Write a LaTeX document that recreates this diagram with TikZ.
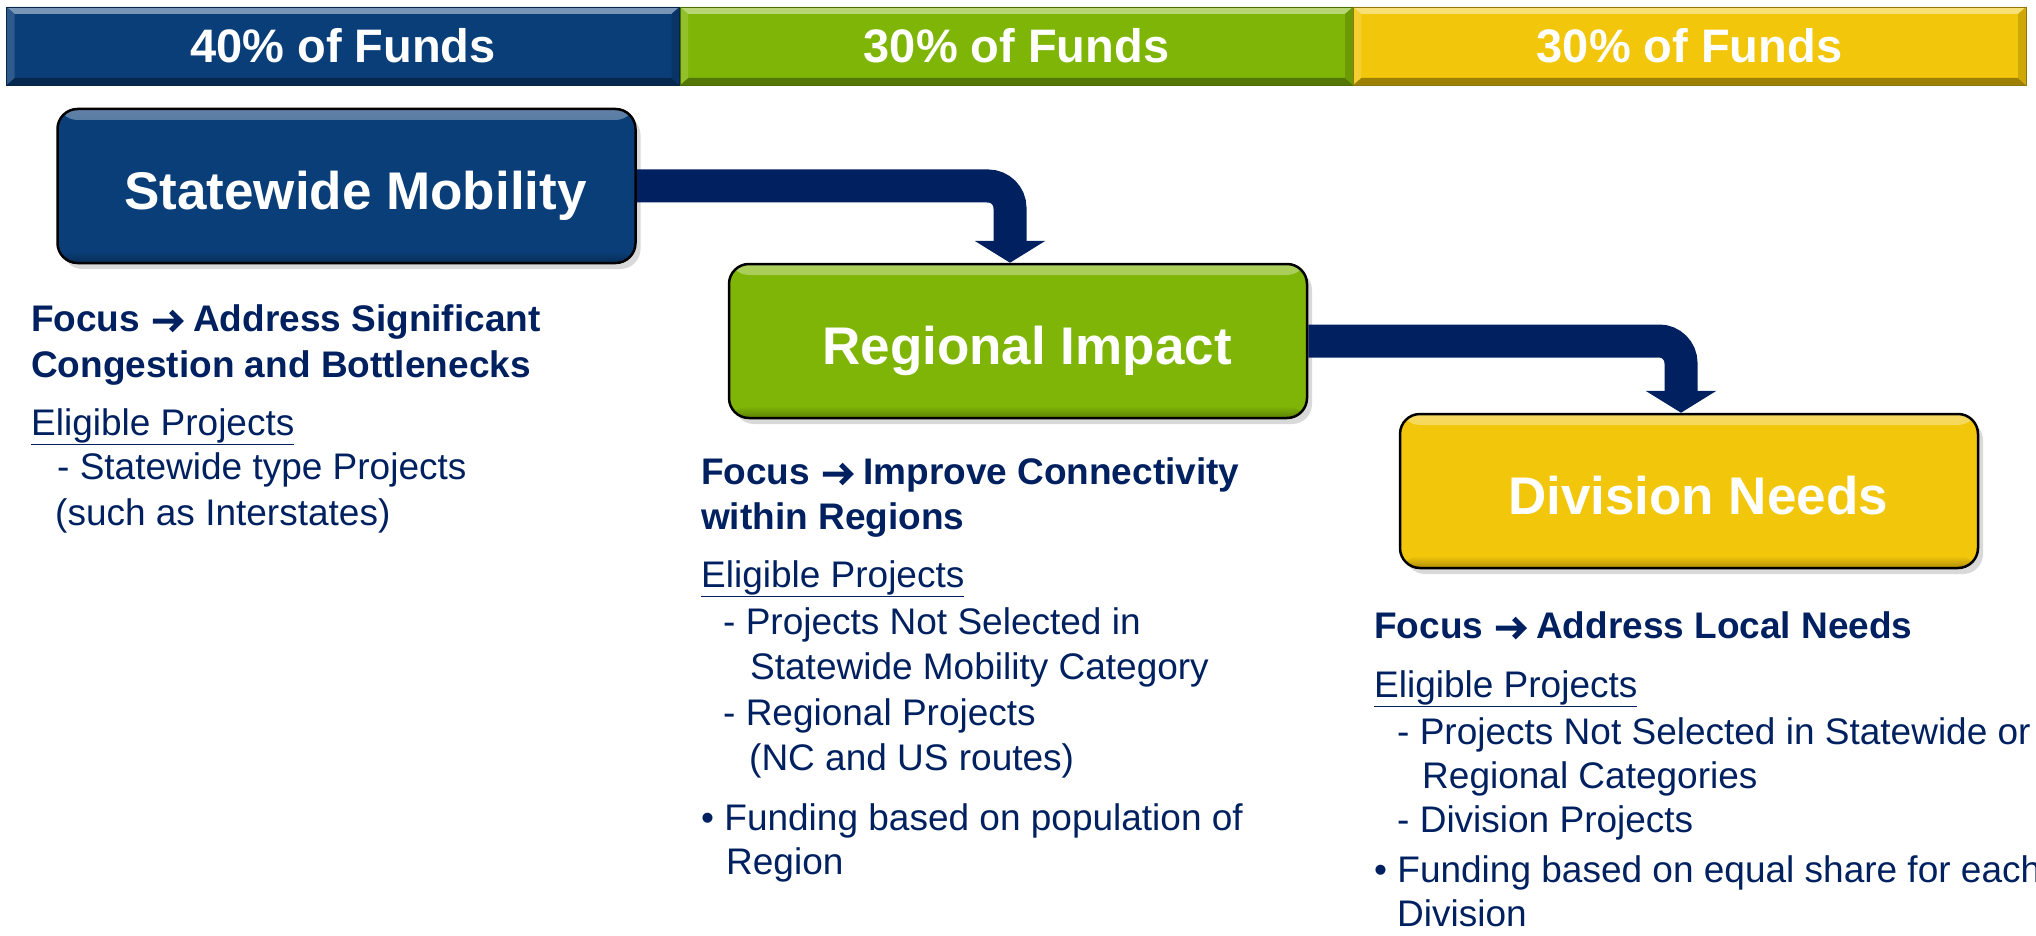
\documentclass[tikz,border=0pt]{standalone}
\usepackage{fontspec}
\setmainfont{Liberation Sans}
\usetikzlibrary{arrows.meta,shadows}
\definecolor{navy}{RGB}{0,32,96}
\definecolor{segblue}{RGB}{10,62,120}
\definecolor{seggreen}{RGB}{127,181,6}
\definecolor{segyellow}{RGB}{242,198,10}
\newcommand\focusarrow{\tikz[baseline=0pt,x=1pt,y=1pt]{\draw[navy, line width=5pt, line join=miter, line cap=butt] (0,10) -- (27,10) (18,0.5) -- (27.5,10) -- (18,19.5);}}
\begin{document}
\begin{tikzpicture}[x=1pt,y=-1pt,
  barseg/.style={minimum width=673pt, minimum height=78pt, inner sep=0pt,
    fill=#1, draw=#1!60!black, line width=0.8pt, text=white,
    font={\fontsize{47pt}{56pt}\selectfont\bfseries},
    path picture={
      \fill[#1!55!white] (path picture bounding box.north west) -- (path picture bounding box.north east)
        -- ([shift={(-8pt,-7pt)}]path picture bounding box.north east) -- ([shift={(8pt,-7pt)}]path picture bounding box.north west) -- cycle;
      \fill[#1!65!black] (path picture bounding box.south west) -- (path picture bounding box.south east)
        -- ([shift={(-8pt,7pt)}]path picture bounding box.south east) -- ([shift={(8pt,7pt)}]path picture bounding box.south west) -- cycle;
      \fill[#1!85!black] (path picture bounding box.north east) -- ([shift={(-8pt,-7pt)}]path picture bounding box.north east)
        -- ([shift={(-8pt,7pt)}]path picture bounding box.south east) -- (path picture bounding box.south east) -- cycle;
      \fill[#1!85!white] (path picture bounding box.north west) -- ([shift={(8pt,-7pt)}]path picture bounding box.north west)
        -- ([shift={(8pt,7pt)}]path picture bounding box.south west) -- (path picture bounding box.south west) -- cycle;
    }},
  catbox/.style={minimum width=578pt, minimum height=154pt, inner sep=0pt,
    rounded corners=20pt, fill=#1, draw=black, line width=2.5pt, text=white,
    font={\fontsize{53pt}{62pt}\selectfont\bfseries}, text height=46pt, text depth=0pt,
    drop shadow={shadow xshift=5pt, shadow yshift=-6pt, opacity=0.3},
    path picture={
      \shade[top color=#1!65!white, bottom color=#1] (path picture bounding box.north west)
        rectangle ([yshift=-11pt]path picture bounding box.north east);
      \shade[top color=#1, bottom color=#1!72!black] ([yshift=12pt]path picture bounding box.south west)
        rectangle (path picture bounding box.south east);
    }},
  flow/.style={draw=navy, line width=33pt, rounded corners=22pt,
    -{Triangle[width=70pt,length=22pt]}},
  body/.style={anchor=base west, inner sep=0pt, text=navy,
    font={\fontsize{37pt}{45pt}\selectfont}},
  bodyb/.style={body, font={\fontsize{37pt}{45pt}\selectfont\bfseries}}
]
\useasboundingbox (0,0) rectangle (2036,936);
\clip (0,0) rectangle (2036,936);

% funding bar
\node[barseg=segblue] (b1) at (343,46) {40\% of Funds};
\node[barseg=seggreen] (b2) at (1016.5,46) {30\% of Funds};
\node[barseg=segyellow] (b3) at (1689.5,46) {30\% of Funds};

% category boxes
\node[catbox=segblue] (sm) at (346.5,186) {\hspace{18pt}Statewide Mobility};
\node[catbox=seggreen] (ri) at (1018,341) {\hspace{18pt}Regional Impact};
\node[catbox=segyellow] (dn) at (1689,491) {\hspace{18pt}Division Needs};

% connectors
\draw[flow] (sm.east) -| ([xshift=-8pt]ri.north);
\draw[flow] (ri.east) -| ([xshift=-8pt]dn.north);

% left text block
\node[bodyb] (l1) at (31,331) {Focus \focusarrow{} Address Significant};
\node[bodyb] (l2) at (31,377) {Congestion and Bottlenecks};
\node[body] (l3) at (31,435) {\underline{Eligible Projects}};
\node[body] (l4) at (57,479) {- Statewide type Projects};
\node[body] (l5) at (55,525) {(such as Interstates)};

% middle text block
\node[bodyb] (m1) at (701,484) {Focus \focusarrow{} Improve Connectivity};
\node[bodyb] (m2) at (701,529) {within Regions};
\node[body] (m3) at (701,587) {\underline{Eligible Projects}};
\node[body] (m4) at (723,634) {- Projects Not Selected in};
\node[body] (m5) at (750,679) {Statewide Mobility Category};
\node[body] (m6) at (723,725) {- Regional Projects};
\node[body] (m7) at (749,770) {(NC and US routes)};
\node[body] (m8) at (701,830) {• Funding based on population of};
\node[body] (m9) at (726,874) {Region};

% right text block
\node[bodyb] (r1) at (1374,638) {Focus \focusarrow{} Address Local Needs};
\node[body] (r2) at (1374,697) {\underline{Eligible Projects}};
\node[body] (r3) at (1397,744) {- Projects Not Selected in Statewide or};
\node[body] (r4) at (1422,788) {Regional Categories};
\node[body] (r5) at (1397,832) {- Division Projects};
\node[body] (r6) at (1374,882) {• Funding based on equal share for each};
\node[body] (r7) at (1397,926) {Division};
\end{tikzpicture}
\end{document}
